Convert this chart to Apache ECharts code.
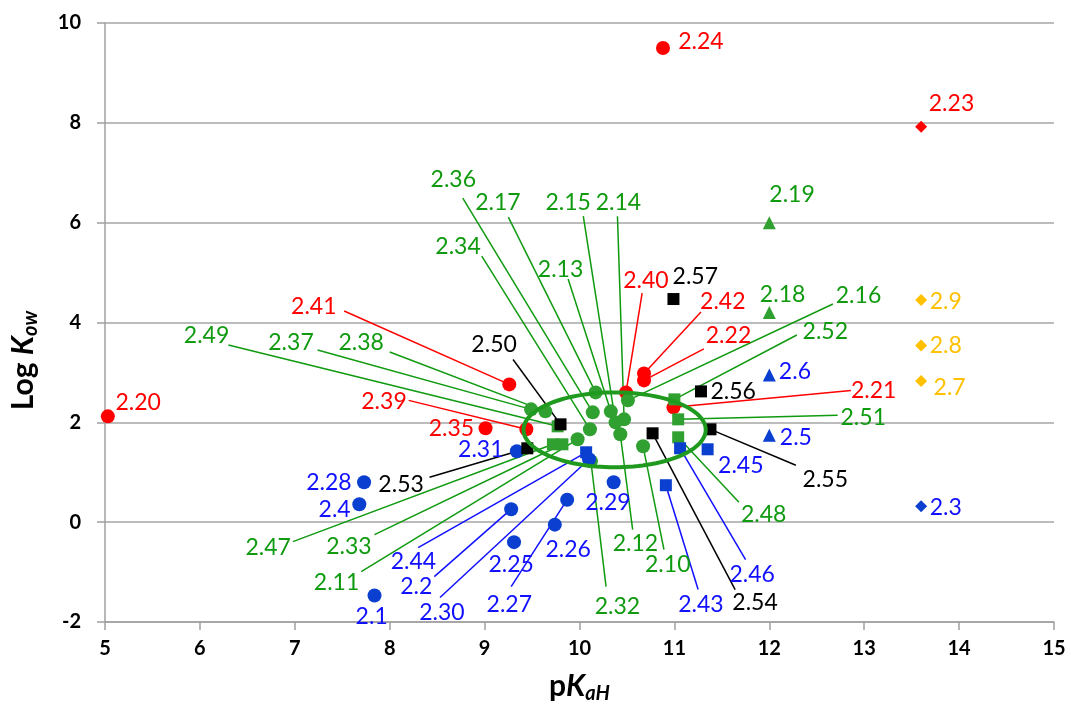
<!DOCTYPE html>
<html>
<head>
<meta charset="utf-8">
<title>Log Kow vs pKaH</title>
<script src="https://cdn.jsdelivr.net/npm/echarts@6/dist/echarts.min.js"></script>
<style>
  html, body { margin: 0; padding: 0; background: #ffffff; }
  #chart { width: 1071px; height: 721px; }
</style>
</head>
<body>
<div id="chart"></div>
<script>
// ---- compound data: pKaH (x) and log Kow (y), grouped by marker ----
const redCircleIds  = ['2.20', '2.24', '2.41', '2.35', '2.39', '2.40', '2.42', '2.22', '2.21'];
const redCirclePKa  = [5.03, 10.88, 9.26, 9.01, 9.44, 10.49, 10.68, 10.68, 10.99];
const redCircleLogK = [2.12, 9.50, 2.76, 1.88, 1.86, 2.60, 2.98, 2.84, 2.30];

const redDiamondIds  = ['2.23'];
const redDiamondPKa  = [13.60];
const redDiamondLogK = [7.92];

const greenCircleIds  = ['2.37', '2.38', '2.17', '2.36', '2.34', '2.11', '2.13', '2.15', '2.14', '2.12', '2.16', '2.10', '2.32'];
const greenCirclePKa  = [9.49, 9.64, 10.17, 10.14, 10.11, 9.98, 10.33, 10.38, 10.47, 10.43, 10.51, 10.67, 10.12];
const greenCircleLogK = [2.26, 2.22, 2.60, 2.20, 1.86, 1.66, 2.22, 2.00, 2.06, 1.76, 2.44, 1.52, 1.22];

const greenSquareIds  = ['2.49', '2.47', '2.33', '2.52', '2.51', '2.48'];
const greenSquarePKa  = [9.77, 9.72, 9.82, 11.00, 11.04, 11.04];
const greenSquareLogK = [1.92, 1.56, 1.56, 2.46, 2.06, 1.70];

const greenTriangleIds  = ['2.19', '2.18'];
const greenTrianglePKa  = [12.00, 12.00];
const greenTriangleLogK = [6.00, 4.20];

const blueCircleIds  = ['2.28', '2.4', '2.1', '2.31', '2.2', '2.25', '2.26', '2.27', '2.29', '2.30'];
const blueCirclePKa  = [7.73, 7.68, 7.84, 9.34, 9.28, 9.31, 9.74, 9.87, 10.36, 10.10];
const blueCircleLogK = [0.80, 0.36, -1.47, 1.42, 0.26, -0.40, -0.05, 0.45, 0.80, 1.26];

const blueSquareIds  = ['2.44', '2.46', '2.45', '2.43'];
const blueSquarePKa  = [10.07, 11.06, 11.35, 10.91];
const blueSquareLogK = [1.40, 1.48, 1.46, 0.74];

const blueTriangleIds  = ['2.6', '2.5'];
const blueTrianglePKa  = [12.00, 12.00];
const blueTriangleLogK = [2.95, 1.74];

const blueDiamondIds  = ['2.3'];
const blueDiamondPKa  = [13.60];
const blueDiamondLogK = [0.32];

const yellowDiamondIds  = ['2.9', '2.8', '2.7'];
const yellowDiamondPKa  = [13.60, 13.60, 13.60];
const yellowDiamondLogK = [4.45, 3.54, 2.83];

const blackSquareIds  = ['2.57', '2.50', '2.56', '2.53', '2.55', '2.54'];
const blackSquarePKa  = [10.99, 9.80, 11.28, 9.45, 11.38, 10.77];
const blackSquareLogK = [4.47, 1.96, 2.62, 1.48, 1.86, 1.78];

// axis ticks
const xTicks = [5, 6, 7, 8, 9, 10, 11, 12, 13, 14, 15];
const yTicks = [-2, 0, 2, 4, 6, 8, 10];

// cluster ellipse in data units: centre pKaH, centre log Kow, half-width, half-height
const clusterEllipse = [10.37, 1.85, 0.96, 0.75];

// ---- annotation placement in data units: [labelX, labelY, leaderStartX, leaderStartY] ----
const labelPlacement = {
  '2.20': [5.35, 2.40],
  '2.24': [11.28, 9.62],
  '2.23': [13.92, 8.38],
  '2.41': [7.20, 4.31, 7.52, 4.23],
  '2.35': [8.65, 1.88],
  '2.39': [7.94, 2.42, 8.20, 2.44],
  '2.40': [10.70, 4.83, 10.66, 4.59],
  '2.42': [11.51, 4.41, 11.28, 4.21],
  '2.22': [11.57, 3.73, 11.31, 3.47],
  '2.21': [13.10, 2.64, 12.86, 2.64],
  '2.19': [12.24, 6.57],
  '2.18': [12.14, 4.56],
  '2.36': [8.67, 6.87, 8.77, 6.49],
  '2.17': [9.14, 6.41, 9.25, 6.11],
  '2.15': [9.88, 6.41, 10.04, 6.13],
  '2.14': [10.41, 6.41, 10.40, 6.13],
  '2.34': [8.72, 5.53, 8.97, 5.33],
  '2.13': [9.80, 5.07, 9.88, 4.87],
  '2.49': [6.07, 3.73, 6.30, 3.55],
  '2.37': [6.96, 3.60, 7.24, 3.45],
  '2.38': [7.70, 3.60, 8.00, 3.41],
  '2.16': [12.94, 4.54, 12.67, 4.37],
  '2.52': [12.59, 3.81, 12.29, 3.75],
  '2.51': [12.99, 2.10, 12.72, 2.14],
  '2.48': [11.94, 0.15, 11.68, 0.40],
  '2.47': [6.72, -0.51, 6.98, -0.39],
  '2.33': [7.57, -0.49, 7.84, -0.25],
  '2.11': [7.44, -1.21, 7.70, -0.99],
  '2.32': [10.40, -1.69, 10.28, -1.29],
  '2.12': [10.59, -0.43, 10.56, -0.15],
  '2.10': [10.93, -0.85, 10.89, -0.55],
  '2.28': [7.36, 0.80],
  '2.4':  [7.42, 0.26],
  '2.1':  [7.81, -1.89],
  '2.31': [8.96, 1.46],
  '2.44': [8.25, -0.79, 8.30, -0.51],
  '2.2':  [8.28, -1.29, 8.47, -1.09],
  '2.30': [8.55, -1.81, 8.53, -1.51],
  '2.25': [9.28, -0.85],
  '2.27': [9.26, -1.65, 9.28, -1.29],
  '2.26': [9.88, -0.55],
  '2.29': [10.30, 0.40],
  '2.43': [11.28, -1.65, 11.25, -1.35],
  '2.46': [11.82, -1.05, 11.75, -0.75],
  '2.45': [11.70, 1.14],
  '2.6':  [12.27, 3.02],
  '2.5':  [12.28, 1.70],
  '2.3':  [13.86, 0.30],
  '2.9':  [13.86, 4.41],
  '2.8':  [13.86, 3.53],
  '2.7':  [13.90, 2.70],
  '2.57': [11.22, 4.91],
  '2.50': [9.10, 3.56, 9.30, 3.26],
  '2.56': [11.62, 2.62],
  '2.53': [8.12, 0.76, 8.42, 0.90],
  '2.55': [12.59, 0.86, 12.28, 1.14],
  '2.54': [11.85, -1.61, 11.64, -1.35]
};

// ---- styling ----
const RED = '#ff0000', GREEN_MK = '#30a030', GREEN_TX = '#109a10';
const BLUE_MK = '#0a3fcf', BLUE_TX = '#1010ff', YELLOW = '#ffc000', BLACK = '#000000';
const LABEL_FONT = 'Lato, "Open Sans", sans-serif';

const groups = [
  { ids: redCircleIds, x: redCirclePKa, y: redCircleLogK, symbol: 'circle', size: 14, mark: RED, text: RED },
  { ids: redDiamondIds, x: redDiamondPKa, y: redDiamondLogK, symbol: 'diamond', size: 12, mark: RED, text: RED },
  { ids: greenCircleIds, x: greenCirclePKa, y: greenCircleLogK, symbol: 'circle', size: 14, mark: GREEN_MK, text: GREEN_TX },
  { ids: greenSquareIds, x: greenSquarePKa, y: greenSquareLogK, symbol: 'rect', size: 12, mark: GREEN_MK, text: GREEN_TX },
  { ids: greenTriangleIds, x: greenTrianglePKa, y: greenTriangleLogK, symbol: 'triangle', size: 13, mark: GREEN_MK, text: GREEN_TX },
  { ids: blueCircleIds, x: blueCirclePKa, y: blueCircleLogK, symbol: 'circle', size: 14, mark: BLUE_MK, text: BLUE_TX },
  { ids: blueSquareIds, x: blueSquarePKa, y: blueSquareLogK, symbol: 'rect', size: 12, mark: BLUE_MK, text: BLUE_TX },
  { ids: blueTriangleIds, x: blueTrianglePKa, y: blueTriangleLogK, symbol: 'triangle', size: 13, mark: BLUE_MK, text: BLUE_TX },
  { ids: blueDiamondIds, x: blueDiamondPKa, y: blueDiamondLogK, symbol: 'diamond', size: 12, mark: BLUE_MK, text: BLUE_TX },
  { ids: yellowDiamondIds, x: yellowDiamondPKa, y: yellowDiamondLogK, symbol: 'diamond', size: 12, mark: YELLOW, text: YELLOW },
  { ids: blackSquareIds, x: blackSquarePKa, y: blackSquareLogK, symbol: 'rect', size: 12, mark: BLACK, text: BLACK }
];

// flatten annotations: text labels and leader lines
const labelItems = [], labelMeta = [];
const leaderItems = [], leaderColors = [];
groups.forEach(g => {
  g.ids.forEach((id, i) => {
    const p = labelPlacement[id];
    if (!p) return;
    labelItems.push([p[0], p[1]]);
    labelMeta.push({ text: id, color: g.text });
    if (p.length === 4) {
      leaderItems.push([p[2], p[3], g.x[i], g.y[i]]);
      leaderColors.push(g.text);
    }
  });
});

const scatterSeries = groups.map(g => ({
  type: 'scatter',
  symbol: g.symbol,
  symbolSize: g.size,
  itemStyle: { color: g.mark, opacity: 1 },
  z: 3,
  silent: true,
  data: g.ids.map((id, i) => [g.x[i], g.y[i]])
}));

const leaderSeries = {
  type: 'custom',
  z: 2,
  silent: true,
  encode: { x: [0, 2], y: [1, 3] },
  data: leaderItems,
  renderItem: (params, api) => {
    const a = api.coord([api.value(0), api.value(1)]);
    const b = api.coord([api.value(2), api.value(3)]);
    return {
      type: 'line',
      shape: { x1: a[0], y1: a[1], x2: b[0], y2: b[1] },
      style: { stroke: leaderColors[params.dataIndex], lineWidth: 1.5 }
    };
  }
};

const ellipseSeries = {
  type: 'custom',
  z: 4,
  silent: true,
  encode: { x: 0, y: 1 },
  data: [clusterEllipse],
  renderItem: (params, api) => {
    const c = api.coord([api.value(0), api.value(1)]);
    const s = api.size([api.value(2), api.value(3)]);
    const pts = [];
    for (let k = 0; k < 120; k++) {
      const t = (k / 120) * Math.PI * 2;
      pts.push([c[0] + s[0] * Math.cos(t), c[1] + s[1] * Math.sin(t)]);
    }
    return {
      type: 'polygon',
      shape: { points: pts },
      style: { fill: 'none', stroke: '#1f9a1f', lineWidth: 4 }
    };
  }
};

const labelSeries = {
  type: 'custom',
  z: 6,
  silent: true,
  encode: { x: 0, y: 1 },
  data: labelItems,
  renderItem: (params, api) => {
    const p = api.coord([api.value(0), api.value(1)]);
    const m = labelMeta[params.dataIndex];
    return {
      type: 'text',
      x: p[0], y: p[1],
      style: {
        text: m.text, fill: m.color,
        font: '23px ' + LABEL_FONT,
        align: 'center', verticalAlign: 'middle'
      }
    };
  }
};

const titleRich = {
  a: { fontFamily: LABEL_FONT, fontWeight: 'bold', fontSize: 30, color: '#000' },
  k: { fontFamily: LABEL_FONT, fontWeight: 'bold', fontStyle: 'italic', fontSize: 30, color: '#000' },
  s: { fontFamily: LABEL_FONT, fontWeight: 'bold', fontStyle: 'italic', fontSize: 20, color: '#000', padding: [16, 0, 0, 0] }
};

const chart = echarts.init(document.getElementById('chart'), null, { renderer: 'canvas' });
chart.setOption({
  animation: false,
  backgroundColor: '#ffffff',
  grid: { left: 103, right: 17, top: 23, bottom: 99, containLabel: false },
  xAxis: {
    type: 'value', min: xTicks[0], max: xTicks[xTicks.length - 1], interval: 1,
    name: '{a|p}{k|K}{s|aH}',
    nameLocation: 'middle', nameGap: 46,
    nameTextStyle: { rich: titleRich },
    axisLine: { show: true, onZero: false, lineStyle: { color: '#a0a0a0', width: 1.5 } },
    axisTick: { show: true, inside: false, length: 8, lineStyle: { color: '#a0a0a0', width: 1.5 } },
    axisLabel: { color: '#000', fontFamily: LABEL_FONT, fontWeight: 'bold', fontSize: 20, margin: 17 },
    splitLine: { show: false }
  },
  yAxis: {
    type: 'value', min: yTicks[0], max: yTicks[yTicks.length - 1], interval: 2,
    name: '{a|Log }{k|K}{s|ow}',
    nameLocation: 'middle', nameGap: 64, nameRotate: 90,
    nameTextStyle: { rich: titleRich, padding: [0, 76, 0, 0] },
    axisLine: { show: true, lineStyle: { color: '#a0a0a0', width: 1.5 } },
    axisTick: { show: true, inside: false, length: 8, lineStyle: { color: '#a0a0a0', width: 1.5 } },
    axisLabel: { color: '#000', fontFamily: LABEL_FONT, fontWeight: 'bold', fontSize: 20, margin: 24 },
    splitLine: { show: true, lineStyle: { color: '#a6a6a6', width: 1.5 } }
  },
  series: [leaderSeries].concat(scatterSeries, [ellipseSeries, labelSeries])
});
</script>
</body>
</html>
